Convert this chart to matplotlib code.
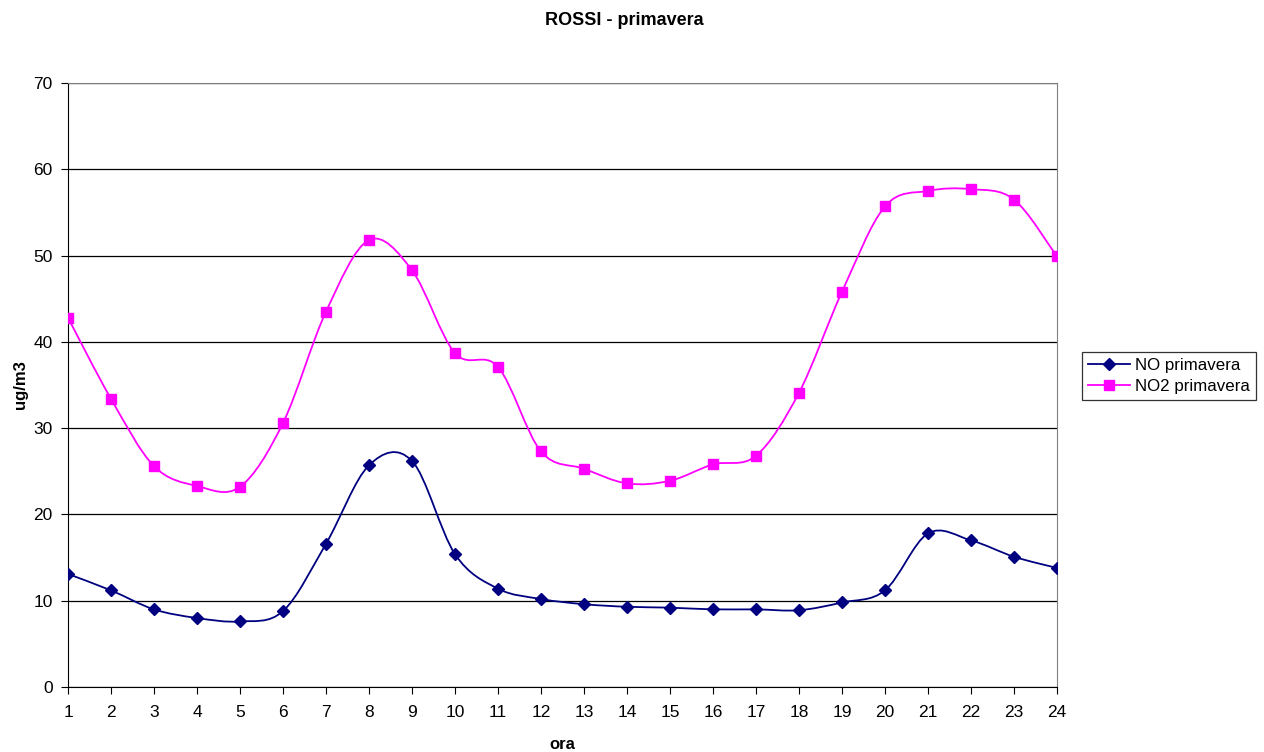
import numpy as np
import matplotlib
matplotlib.use("Agg")
import matplotlib.pyplot as plt
from matplotlib.path import Path
from matplotlib.patches import PathPatch
from matplotlib.lines import Line2D

plt.rcParams["font.family"] = ["Liberation Sans", "DejaVu Sans"]

ore = list(range(1, 25))
no_primavera = [13.1, 11.2, 9.0, 8.0, 7.6, 8.8, 16.6, 25.7, 26.2, 15.4, 11.4, 10.2,
                9.6, 9.3, 9.2, 9.0, 9.0, 8.9, 9.8, 11.2, 17.8, 17.0, 15.1, 13.8]
no2_primavera = [42.8, 33.4, 25.6, 23.3, 23.2, 30.6, 43.5, 51.8, 48.3, 38.7, 37.1, 27.3,
                 25.3, 23.6, 23.9, 25.8, 26.8, 34.1, 45.8, 55.7, 57.5, 57.7, 56.5, 49.9]


def smooth_path(x, y):
    # Catmull-Rom style cubic Bezier through the points (spreadsheet "smoothed line")
    x = np.asarray(x, float); y = np.asarray(y, float)
    n = len(x)
    verts = [(x[0], y[0])]; codes = [Path.MOVETO]
    for i in range(n - 1):
        p0 = i - 1 if i > 0 else i
        p3 = i + 2 if i + 2 < n else i + 1
        c1 = (x[i] + (x[i + 1] - x[p0]) / 6, y[i] + (y[i + 1] - y[p0]) / 6)
        c2 = (x[i + 1] - (x[p3] - x[i]) / 6, y[i + 1] - (y[p3] - y[i]) / 6)
        verts += [c1, c2, (x[i + 1], y[i + 1])]
        codes += [Path.CURVE4] * 3
    return Path(verts, codes)


fig = plt.figure(figsize=(12.64, 7.52), dpi=100)
ax = fig.add_axes([0.0538, 0.0864, 0.7824, 0.8032])

series = [
    (no_primavera, "#000080", "D", 6, "NO primavera"),
    (no2_primavera, "#FF00FF", "s", 7.5, "NO2 primavera"),
]
handles = []
for vals, col, mk, ms, lab in series:
    ax.add_patch(PathPatch(smooth_path(ore, vals), facecolor="none", edgecolor=col, lw=1.3, zorder=3))
    ax.plot(ore, vals, ls="none", marker=mk, ms=ms, color=col, zorder=4)
    handles.append(Line2D([], [], color=col, lw=1.3, marker=mk, ms=ms, label=lab))

ax.set_xlim(1, 24)
ax.set_ylim(0, 70)
ax.set_xticks(ore)
ax.set_yticks(range(0, 71, 10))
ax.tick_params(labelsize=12.5, length=5, direction="out")
ax.tick_params(axis="x", pad=8)
ax.tick_params(axis="y", pad=6)
ax.yaxis.grid(True, color="black", lw=0.9)
ax.set_axisbelow(True)
for s in ["top", "right"]:
    ax.spines[s].set_color("#808080")
ax.spines["left"].set_color("black")
ax.spines["bottom"].set_color("black")

ax.set_xlabel("ora", fontsize=12, fontweight="bold", labelpad=12)
ax.set_ylabel("ug/m3", fontsize=12, fontweight="bold", labelpad=4)
fig.text(0.494, 0.973, "ROSSI - primavera", ha="center", va="center", fontsize=13, fontweight="bold")

leg = fig.legend(handles=handles, loc="center left", bbox_to_anchor=(0.856, 0.5),
                 fontsize=12.2, frameon=True, fancybox=False, edgecolor="black",
                 handlelength=2.5, handletextpad=0.3, borderpad=0.35, labelspacing=0.35,
                 borderaxespad=0)
leg.get_frame().set_linewidth(0.9)

fig.savefig("out.png", dpi=100)
